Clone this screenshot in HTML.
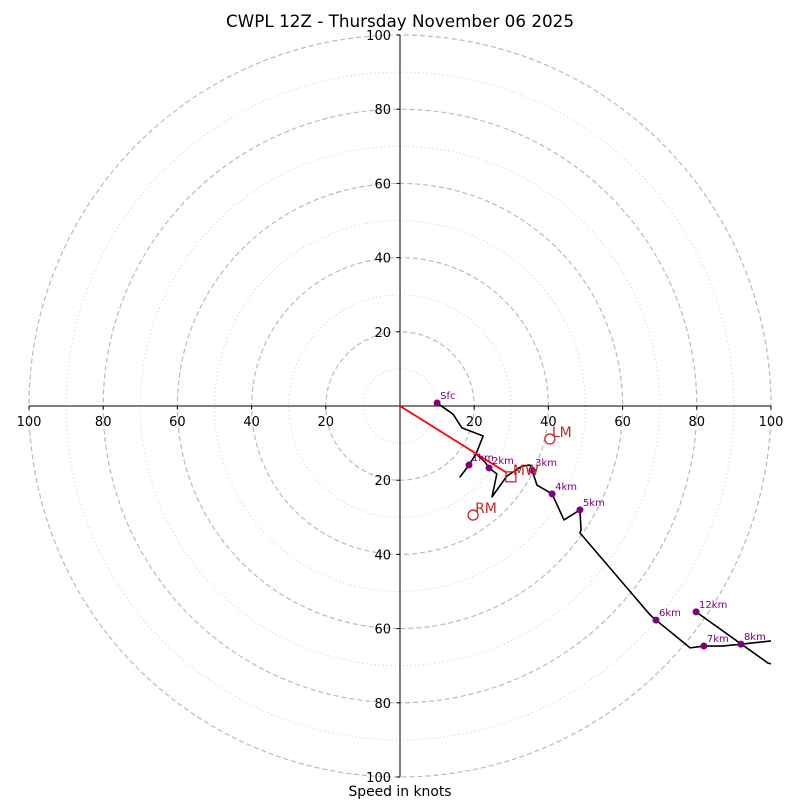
<!DOCTYPE html>
<html><head><meta charset="utf-8"><style>
body{margin:0;background:#fff;}
svg text{font-family:"DejaVu Sans","Liberation Sans",sans-serif;}
</style></head><body>
<svg id="chart" width="800" height="800" viewBox="0 0 800 800">
<defs><clipPath id="clip"><rect x="29" y="35" width="742" height="742"/></clipPath></defs>
<text x="400" y="27" text-anchor="middle" font-size="16.8">CWPL 12Z - Thursday November 06 2025</text>
<g id="rings"></g>
<g id="axes"></g>
<g id="series" clip-path="url(#clip)"></g>
<text x="400" y="796" text-anchor="middle" font-size="13.9">Speed in knots</text>
</svg>
<script>
const tickVals = [20, 40, 60, 80, 100];
const ringDashed = [20, 40, 60, 80, 100];
const ringDotted = [10, 30, 50, 70, 90];
const uVals = [10, 14.3, 16.7, 22.4, 20.5, 18.6, 16.2, 18.6, 20.5, 22.9, 24.0, 26.1, 24.8, 28.8, 32.9, 35.0, 35.6, 36.9, 41.0, 44.2, 48.5, 48.8, 48.5, 67.4, 69.0, 78.2, 81.9, 86.8, 91.9, 100.3, 108, 110, 99.2, 79.8];
const vVals = [0.8, -2.2, -5.9, -8.1, -12.9, -15.9, -19.1, -15.9, -12.9, -15.1, -16.7, -18.3, -24.5, -18.9, -16.2, -15.9, -17.3, -21.3, -23.7, -30.7, -28.0, -33.4, -34.2, -56.3, -57.7, -65.2, -64.7, -64.7, -64.2, -63.3, -60, -72, -69.3, -55.5];
const markLabels = ["Sfc", "1km", "2km", "3km", "4km", "5km", "6km", "7km", "8km", "12km"];
const markU = [10, 18.6, 24.0, 35.6, 41.0, 48.5, 69.0, 81.9, 91.9, 79.8];
const markV = [0.8, -15.9, -16.7, -17.3, -23.7, -28.0, -57.7, -64.7, -64.2, -55.5];
const motionNames = ["LM", "RM", "MW"];
const motionU = [40.4, 19.7, 29.9];
const motionV = [-8.9, -29.4, -19.1];

const cx = 400, cy = 406, S = 3.71;
const X = u => cx + u * S;
const Y = v => cy - v * S;
const NS = "http://www.w3.org/2000/svg";
function mk(tag, parent, attrs) {
  const e = document.createElementNS(NS, tag);
  for (const k in attrs) e.setAttribute(k, attrs[k]);
  parent.appendChild(e);
  return e;
}
const rings = document.getElementById('rings');
ringDotted.forEach(r => {
  const c = mk('circle', rings, {cx: cx, cy: cy, r: r * S, fill: 'none', stroke: '#ccc', 'stroke-width': 1, 'stroke-dasharray': '1,3'});
  
  
});
ringDashed.forEach(r => {
  const c = mk('circle', rings, {cx: cx, cy: cy, r: r * S, fill: 'none', stroke: '#bbb', 'stroke-width': 1.2, 'stroke-dasharray': '5,3'});
  
  
});
const axes = document.getElementById('axes');
let l = mk('line', axes, {x1: X(-100), y1: cy, x2: X(100), y2: cy, stroke: '#000', 'stroke-width': 1});


l = mk('line', axes, {x1: cx, y1: Y(100), x2: cx, y2: Y(-100), stroke: '#000', 'stroke-width': 1});


tickVals.forEach(t => {
  [t, -t].forEach(s => {
    const tx = mk('text', axes, {x: X(s), y: cy + 20, 'text-anchor': 'middle', 'font-size': 13});
    tx.textContent = t;
    
    
    mk('line', axes, {x1: X(s), y1: cy, x2: X(s), y2: cy + 3.5, stroke: '#000'});
    const ty = mk('text', axes, {x: cx - 9, y: Y(s) + 5, 'text-anchor': 'end', 'font-size': 13});
    ty.textContent = t;
    
    
    mk('line', axes, {x1: cx - 3.5, y1: Y(s), x2: cx, y2: Y(s), stroke: '#000'});
  });
});
const series = document.getElementById('series');
const pl = mk('polyline', series, {points: uVals.map((u, i) => X(u) + ',' + Y(vVals[i])).join(' '), fill: 'none', stroke: '#000', 'stroke-width': 1.6, 'stroke-linejoin': 'round'});


const mwx = X(motionU[2]) - 4, mwy = Y(motionV[2]) - 4;
const rl = mk('line', series, {x1: cx, y1: cy, x2: mwx, y2: mwy, stroke: '#f00', 'stroke-width': 1.8});


markLabels.forEach((n, i) => {
  const d = mk('circle', series, {cx: X(markU[i]), cy: Y(markV[i]), r: 3.5, fill: '#800080'});
  
  
  const t = mk('text', series, {x: X(markU[i]) + 3, y: Y(markV[i]) - 4, 'font-size': 10, fill: '#800080'});
  t.textContent = n;
  
  
});
motionNames.forEach((n, i) => {
  const x = X(motionU[i]), y = Y(motionV[i]);
  let m;
  if (n === 'MW') m = mk('rect', series, {x: x - 5, y: y - 5, width: 10, height: 10, fill: 'none', stroke: '#c62828', 'stroke-width': 1.3});
  else m = mk('circle', series, {cx: x, cy: y, r: 5, fill: 'none', stroke: '#c62828', 'stroke-width': 1.3});
  
  
  const t = mk('text', series, {x: x + 2, y: y - 2, 'font-size': 14, fill: '#c62828'});
  t.textContent = n;
  
  
});
</script>
</body></html>
